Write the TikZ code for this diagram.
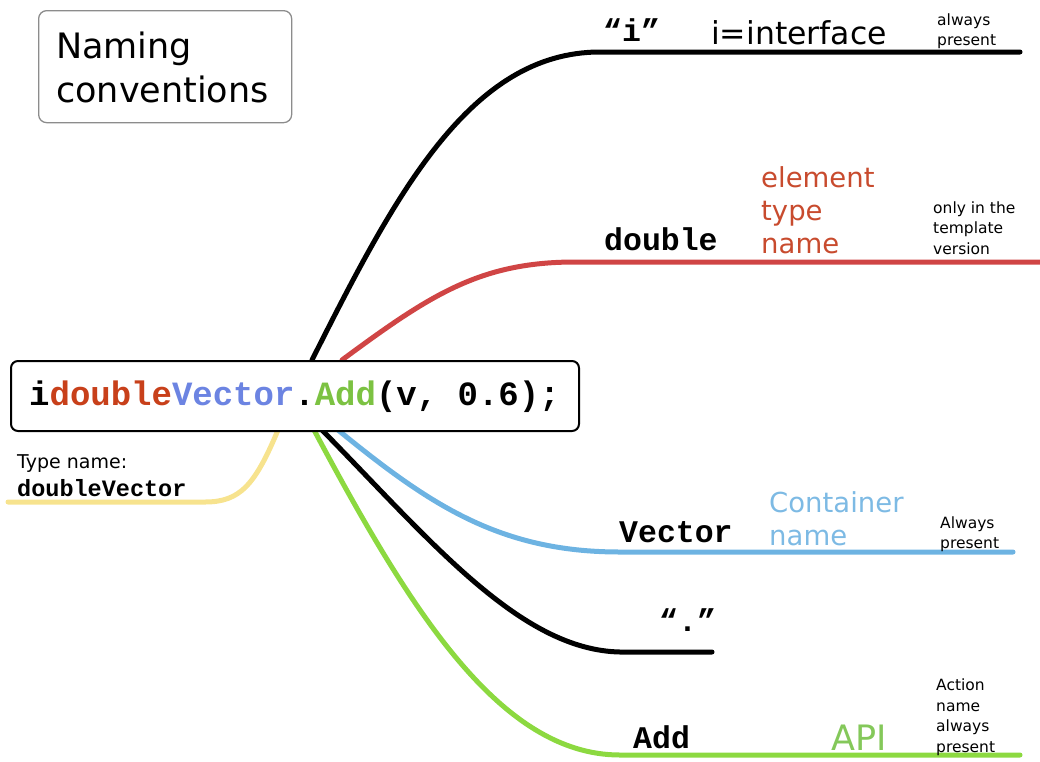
\documentclass[tikz,border=0pt]{standalone}
\usepackage{fontspec}
\setmainfont{DejaVu Sans}
\newfontfamily\mono{Liberation Mono}
\usetikzlibrary{backgrounds}
\definecolor{dblc}{HTML}{C8401A}
\definecolor{vecc}{HTML}{6C84E2}
\definecolor{addc}{HTML}{7CC242}
\definecolor{redl}{HTML}{D04545}
\definecolor{bluel}{HTML}{6DB3E2}
\definecolor{greenl}{HTML}{8CD940}
\definecolor{yell}{HTML}{F7E38E}
\definecolor{redt}{HTML}{C84B2E}
\definecolor{bluet}{HTML}{7DBAE4}
\definecolor{greent}{HTML}{84C85A}
\tikzset{
  branch/.style={line width=5pt, line cap=round},
  monolab/.style={font=\mono\bfseries\fontsize{31.5}{34}\selectfont, anchor=base west, inner sep=0pt},
  biglab/.style={font=\fontsize{27.5}{33}\selectfont, anchor=west, inner sep=0pt, align=left},
  smalllab/.style={font=\fontsize{15.5}{20.5}\selectfont, anchor=west, inner sep=0pt, align=left},
}
\begin{document}
\begin{tikzpicture}[x=1pt,y=-1pt]
\useasboundingbox (0,0) rectangle (1040,761);
% title
\node[draw=black!45, line width=1.3pt, rounded corners=8pt, minimum width=253pt, minimum height=112pt, anchor=north west, inner sep=0pt] (title) at (38,10) {};
\node[font=\fontsize{35}{44}\selectfont, align=left, anchor=west, inner sep=0pt] (titletext) at (56,67) {Naming\\conventions};
% code box
\node[draw=black, line width=2pt, fill=white, rounded corners=7pt, minimum width=568pt, minimum height=70pt, anchor=north west, inner sep=0pt] (code) at (10,360) {};
\node[font=\mono\bfseries\fontsize{34}{40}\selectfont, anchor=west, inner sep=0pt] (codetext) at (29,397) {i\textcolor{dblc}{double}\textcolor{vecc}{Vector}.\textcolor{addc}{Add}(v, 0.6);};
% coordinates
\coordinate (s1) at (312,360);
\coordinate (s2) at (342,360);
\coordinate (s3) at (278,430);
\coordinate (s4) at (338,430);
\coordinate (s5) at (322,430);
\coordinate (s6) at (314,430);
\coordinate (e1) at (1020,52);
\coordinate (e2) at (1040,262);
\coordinate (e3) at (8,502);
\coordinate (e4) at (1013,552);
\coordinate (e5) at (712,652);
\coordinate (e6) at (1020,755);
\begin{scope}[on background layer]
\draw[branch, black] (s1) .. controls (395,195) and (470,52) .. (600,52) -- (e1);
\draw[branch, redl] (s2) .. controls (430,295) and (480,262) .. (575,262) -- (e2);
\draw[branch, yell] (s3) .. controls (255,485) and (240,502) .. (205,502) -- (e3);
\draw[branch, bluel] (s4) .. controls (430,505) and (500,552) .. (620,552) -- (e4);
\draw[branch, black] (s5) .. controls (430,540) and (520,650) .. (620,652) -- (e5);
\draw[branch, greenl] (s6) .. controls (410,610) and (500,755) .. (620,755) -- (e6);
\end{scope}
% labels top
\node[monolab] (li) at (603,41) {“i”};
\node[biglab, font=\fontsize{31.5}{34}\selectfont] (liface) at (711,33) {i=interface};
\node[smalllab] (lalw) at (937,31) {always\\present};
% double
\node[monolab] (ldouble) at (604,250) {double};
\node[biglab, text=redt] (lelem) at (761,210) {element\\type\\name};
\node[smalllab] (lonly) at (933,228) {only in the\\template\\version};
% yellow
\node[font=\fontsize{19}{24}\selectfont, anchor=west, inner sep=0pt] (ltype) at (17,464) {Type name:};
\node[font=\mono\bfseries\fontsize{23.5}{26}\selectfont, anchor=west, inner sep=0pt] (ltypev) at (17,488) {doubleVector};
% vector
\node[monolab] (lvector) at (619,542) {Vector};
\node[biglab, text=bluet] (lcont) at (769,519) {Container\\name};
\node[smalllab] (lalw2) at (940,534) {Always\\present};
% dot
\node[monolab] (ldot) at (659,631) {“.”};
% add
\node[monolab] (ladd) at (633,748) {Add};
\node[font=\fontsize{35}{40}\selectfont, text=greent, anchor=west, inner sep=0pt] (lapi) at (831,738) {API};
\node[smalllab] (laction) at (936,717) {Action\\name\\always\\present};
\end{tikzpicture}
\end{document}
